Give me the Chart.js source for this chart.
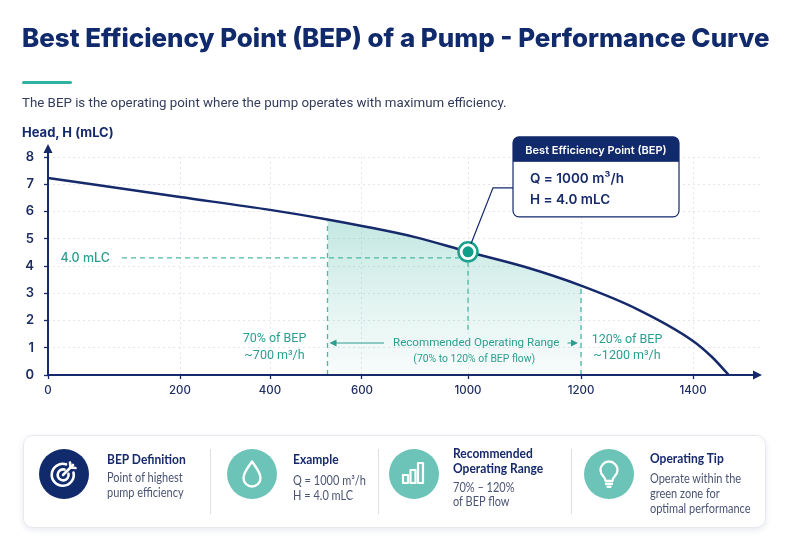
<!DOCTYPE html>
<html>
<head>
<meta charset="utf-8">
<script src="https://cdn.jsdelivr.net/npm/chart.js@4.4.1/dist/chart.umd.min.js"></script>
<style>
  body { margin: 0; background: #fff; font-family: Inter, 'Noto Sans', sans-serif; }
  #wrap { position: relative; width: 800px; height: 553px; overflow: hidden; background: #fff; }
  #chart { position: absolute; left: 0; top: 0; }
  .abs { position: absolute; white-space: nowrap; }
  #title { left: 22px; top: 22px; font-size: 24px; font-weight: 800; color: #112a6b; line-height: 32px; }
  #bar { left: 22px; top: 81px; width: 50px; height: 3px; background: #2eb3a1; border-radius: 2px; }
  #sub { left: 22px; top: 94px; font-size: 13px; color: #333c5c; line-height: 18px; font-family: Roboto, sans-serif; }
  #ytitle { left: 22px; top: 124px; font-size: 13px; font-weight: 700; color: #15296b; line-height: 17px; }
  #card { left: 23px; top: 435px; width: 741px; height: 91px; border: 1px solid #e7e9ef; border-radius: 10px;
          background: #fff; box-shadow: 0 2px 6px rgba(20, 40, 100, 0.10); }
  .sep { position: absolute; top: 449px; width: 1px; height: 65px; background: #dcdfe6; }
  .icon { position: absolute; top: 449px; width: 50px; height: 50px; }
  .ct { font-family: Lato, sans-serif; font-size: 13.5px; font-weight: 700; color: #15296b; line-height: 15px;
        transform: scaleX(0.89); transform-origin: left center; }
  .cb { font-family: Lato, sans-serif; font-size: 12.5px; color: #4b5474; line-height: 15px;
        transform: scaleX(0.88); transform-origin: left center; }
</style>
</head>
<body>
<div id="wrap">
  <canvas id="chart" width="800" height="553"></canvas>

  <div id="title" class="abs">Best Efficiency Point (BEP) of a Pump - Performance Curve</div>
  <div id="bar" class="abs"></div>
  <div id="sub" class="abs">The BEP is the operating point where the pump operates with maximum efficiency.</div>
  <div id="ytitle" class="abs">Head, H (mLC)</div>

  <div id="card" class="abs"></div>
  <div class="sep" style="left:210px"></div>
  <div class="sep" style="left:378px"></div>
  <div class="sep" style="left:571px"></div>

  <svg class="icon" style="left:39px" viewBox="0 0 50 50">
    <circle cx="25" cy="25" r="25" fill="#102a6b"/>
    <g fill="none" stroke="#fff" stroke-width="2.6" stroke-linecap="round" stroke-linejoin="round">
      <path d="M34.5 23.5 A11 11 0 1 1 27 15.3"/>
      <path d="M29.5 24.8 A5.5 5.5 0 1 1 25.5 20.6"/>
      <path d="M24 26 L34 16"/>
      <path d="M31 13.5 L31.5 18.5 L36.5 19"/>
    </g>
  </svg>
  <svg class="icon" style="left:227px" viewBox="0 0 50 50">
    <circle cx="25" cy="25" r="25" fill="#6cc3b7"/>
    <path d="M25 12.5 C22 17 16.5 23 16.5 29 A8.5 8.5 0 0 0 33.5 29 C33.5 23 28 17 25 12.5 Z"
          fill="none" stroke="#fff" stroke-width="2.4" stroke-linejoin="round"/>
  </svg>
  <svg class="icon" style="left:389px" viewBox="0 0 50 50">
    <circle cx="25" cy="25" r="25" fill="#6cc3b7"/>
    <g fill="none" stroke="#fff" stroke-width="2.2" stroke-linejoin="round">
      <rect x="14" y="26" width="5" height="8"/>
      <rect x="21.5" y="21" width="5" height="13"/>
      <rect x="29" y="14" width="5" height="20"/>
    </g>
  </svg>
  <svg class="icon" style="left:584px" viewBox="0 0 50 50">
    <circle cx="25" cy="25" r="25" fill="#6cc3b7"/>
    <g fill="none" stroke="#fff" stroke-width="2.3" stroke-linecap="round" stroke-linejoin="round">
      <path d="M19.5 27.5 A8.5 8.5 0 1 1 30.5 27.5 C29 29 28.5 30.5 28.5 32 H21.5 C21.5 30.5 21 29 19.5 27.5 Z"/>
      <path d="M22 35 H28"/>
      <path d="M23.5 37.8 H26.5"/>
    </g>
  </svg>

  <div class="abs ct" style="left:107px;top:452px">BEP Definition</div>
  <div class="abs cb" style="left:107px;top:470px">Point of highest<br>pump efficiency</div>

  <div class="abs ct" style="left:293px;top:452px">Example</div>
  <div class="abs cb" style="left:293px;top:473px">Q = 1000 m³/h<br>H = 4.0 mLC</div>

  <div class="abs ct" style="left:453px;top:446px">Recommended<br>Operating Range</div>
  <div class="abs cb" style="left:453px;top:481px;line-height:14px">70% – 120%<br>of BEP flow</div>

  <div class="abs ct" style="left:650px;top:451px">Operating Tip</div>
  <div class="abs cb" style="left:650px;top:471px">Operate within the<br>green zone for<br>optimal performance</div>
</div>

<script>
// pump curve (flow in m³/h, head in mLC)
const flowQ = [0, 200, 400, 525, 600, 800, 1000, 1100, 1200, 1300, 1400, 1434, 1464];
const headH = [7.23, 6.53, 6.06, 5.71, 5.47, 5.06, 4.52, 3.97, 3.28, 2.42, 1.25, 0.66, 0];
const xTicks = [0, 200, 400, 600, 1000, 1200, 1400];
const yTicks = [0, 1, 2, 3, 4, 5, 6, 7, 8];
const rangeQ = [525, 1200];      // shaded recommended range as drawn
const bepQ = [1000];
const bepH = [4.52];
const bepGuideH = 4.3;           // level of the "4.0 mLC" guide line as drawn
const bepDropH = 1.55;           // where the dashed drop line from the BEP ends

const NAVY = '#15296b';
const TEAL = '#2a9f8f';
const DASH = '#4bb9a8';

// the reference axis is not evenly spaced, so map flow to the axis piece by piece
const X_MAX = 1520;
const X_KNOTS = [[0, 0], [200, 0.1854], [400, 0.3118], [600, 0.4410], [1000, 0.5899],
                 [1200, 0.7486], [1400, 0.9059], [1520, 1]];

class FlowScale extends Chart.LinearScale {
  static id = 'flow';
  getPixelForValue(value) {
    let k = X_KNOTS;
    let i = 1;
    while (i < k.length - 1 && value > k[i][0]) i++;
    const [v0, f0] = k[i - 1], [v1, f1] = k[i];
    return this.getPixelForDecimal(f0 + (value - v0) / (v1 - v0) * (f1 - f0));
  }
  getValueForPixel(pixel) {
    const d = (pixel - this._startPixel) / this._length;
    let k = X_KNOTS;
    let i = 1;
    while (i < k.length - 1 && d > k[i][1]) i++;
    const [v0, f0] = k[i - 1], [v1, f1] = k[i];
    return v0 + (d - f0) / (f1 - f0) * (v1 - v0);
  }
}
Chart.register(FlowScale);

const curvePts = flowQ.map((q, i) => ({ x: q, y: headH[i] }));
const rangePts = curvePts.filter(p => p.x >= rangeQ[0] && p.x <= rangeQ[1]);
const bepPts = bepQ.map((q, i) => ({ x: q, y: bepH[i] }));

function arrowHead(ctx, x, y, angle, len, half) {
  ctx.save();
  ctx.translate(x, y);
  ctx.rotate(angle);
  ctx.beginPath();
  ctx.moveTo(0, 0);
  ctx.lineTo(-len, -half);
  ctx.lineTo(-len, half);
  ctx.closePath();
  ctx.fill();
  ctx.restore();
}

function dashed(ctx, x1, y1, x2, y2) {
  ctx.save();
  ctx.strokeStyle = DASH;
  ctx.lineWidth = 1.3;
  ctx.setLineDash([5, 4]);
  ctx.beginPath();
  ctx.moveTo(x1, y1);
  ctx.lineTo(x2, y2);
  ctx.stroke();
  ctx.restore();
}

const notes = {
  id: 'notes',
  afterDatasetsDraw(chart) {
    const { ctx, chartArea: a, scales: { x, y } } = chart;
    const curve = chart.getDatasetMeta(0).data;
    const r0 = curve[flowQ.indexOf(rangeQ[0])];
    const r1 = curve[flowQ.indexOf(rangeQ[1])];
    const bx = x.getPixelForValue(bepQ[0]);
    const by = y.getPixelForValue(bepH[0]);

    // guide lines
    dashed(ctx, r0.x, a.bottom, r0.x, r0.y + 2);
    dashed(ctx, r1.x, a.bottom, r1.x, r1.y + 2);
    const gy = y.getPixelForValue(bepGuideH);
    dashed(ctx, a.left + 74, gy, bx - 9, gy);
    dashed(ctx, bx, by + 10, bx, y.getPixelForValue(bepDropH));

    ctx.save();
    ctx.fillStyle = TEAL;
    ctx.textBaseline = 'middle';
    ctx.font = '500 12.5px Inter';
    ctx.textAlign = 'right';
    ctx.fillText('4.0 mLC', a.left + 62, gy);

    ctx.textAlign = 'center';
    ctx.font = '12.5px Roboto';
    ctx.fillText('70% of BEP', r0.x - 53, a.bottom - 36);
    ctx.fillText('~700 m³/h', r0.x - 53, a.bottom - 19);
    ctx.fillText('120% of BEP', r1.x + 46, a.bottom - 35);
    ctx.fillText('~1200 m³/h', r1.x + 46, a.bottom - 19);

    // range arrows
    ctx.font = '11.6px Roboto';
    const t1 = 'Recommended Operating Range';
    const tw = ctx.measureText(t1).width;
    const tc = (r0.x + r1.x) / 2 + 22;
    const ay = a.bottom - 32;
    ctx.fillText(t1, tc, ay);
    ctx.font = '10.4px Roboto';
    ctx.fillText('(70% to 120% of BEP flow)', tc - 2, a.bottom - 16);
    ctx.strokeStyle = TEAL;
    ctx.lineWidth = 1.2;
    ctx.beginPath();
    ctx.moveTo(r0.x + 4, ay);
    ctx.lineTo(tc - tw / 2 - 9, ay);
    ctx.moveTo(tc + tw / 2 + 8, ay);
    ctx.lineTo(r1.x - 6, ay);
    ctx.stroke();
    arrowHead(ctx, r0.x + 2, ay, Math.PI, 7, 3.5);
    arrowHead(ctx, r1.x - 3, ay, 0, 7, 3.5);
    ctx.restore();

    // axes with arrow heads
    ctx.save();
    ctx.strokeStyle = NAVY;
    ctx.fillStyle = NAVY;
    ctx.lineWidth = 2;
    ctx.beginPath();
    ctx.moveTo(a.left, a.bottom);
    ctx.lineTo(a.left, a.top - 7);
    ctx.moveTo(a.left, a.bottom);
    ctx.lineTo(a.right - 4, a.bottom);
    ctx.stroke();
    arrowHead(ctx, a.left, a.top - 13, -Math.PI / 2, 9, 4.5);
    arrowHead(ctx, a.right + 2, a.bottom, 0, 9, 4.5);

    // callout box
    const cx = bx + 45, cy = by - 115, cw = 166, ch = 80, hh = 25;
    ctx.lineWidth = 1.2;
    ctx.beginPath();
    ctx.moveTo(bx + 3, by - 8);
    ctx.lineTo(cx - 20, cy + 51);
    ctx.lineTo(cx, cy + 51);
    ctx.stroke();

    ctx.beginPath();
    ctx.roundRect(cx, cy, cw, ch, 6);
    ctx.fillStyle = '#fff';
    ctx.fill();
    ctx.save();
    ctx.clip();
    ctx.fillStyle = '#112a6b';
    ctx.fillRect(cx, cy, cw, hh);
    ctx.restore();
    ctx.beginPath();
    ctx.roundRect(cx, cy, cw, ch, 6);
    ctx.stroke();

    ctx.textBaseline = 'middle';
    ctx.textAlign = 'center';
    ctx.fillStyle = '#fff';
    ctx.font = '600 11px Inter';
    ctx.fillText('Best Efficiency Point (BEP)', cx + cw / 2, cy + hh / 2 + 1);
    ctx.textAlign = 'left';
    ctx.fillStyle = NAVY;
    ctx.font = '600 13.5px Inter';
    ctx.fillText('Q = 1000 m³/h', cx + 17, cy + 42);
    ctx.fillText('H = 4.0 mLC', cx + 17, cy + 63);
    ctx.restore();
  }
};

const ctx = document.getElementById('chart').getContext('2d');

new Chart(ctx, {
  type: 'line',
  data: {
    datasets: [{
      label: 'Pump curve',
      data: curvePts,
      borderColor: NAVY,
      borderWidth: 2.5,
      pointRadius: 0,
      cubicInterpolationMode: 'monotone',
      fill: false,
      order: 2
    }, {
      label: 'Recommended range',
      data: rangePts,
      borderWidth: 0,
      pointRadius: 0,
      cubicInterpolationMode: 'monotone',
      fill: 'origin',
      backgroundColor: (c) => {
        const ch = c.chart;
        if (!ch.chartArea) return 'rgba(64,180,160,0.2)';
        const ys = ch.scales.y;
        const g = ch.ctx.createLinearGradient(0, ys.getPixelForValue(5.7), 0, ys.getPixelForValue(0));
        g.addColorStop(0, 'rgba(60,178,158,0.30)');
        g.addColorStop(0.55, 'rgba(60,178,158,0.14)');
        g.addColorStop(1, 'rgba(60,178,158,0.04)');
        return g;
      },
      order: 3
    }, {
      label: 'BEP ring',
      data: bepPts,
      showLine: false,
      pointRadius: 9.5,
      pointBackgroundColor: '#fff',
      pointBorderColor: '#1aa08d',
      pointBorderWidth: 2.5,
      order: 1
    }, {
      label: 'BEP',
      data: bepPts,
      showLine: false,
      pointRadius: 5.5,
      pointBackgroundColor: '#0f9e89',
      pointBorderWidth: 0,
      order: 0
    }]
  },
  options: {
    responsive: false,
    animation: false,
    events: [],
    layout: { padding: { left: 8, top: 157, right: 40, bottom: 150 } },
    plugins: { legend: { display: false }, tooltip: { enabled: false } },
    scales: {
      x: {
        type: 'flow',
        min: 0,
        max: X_MAX,
        afterBuildTicks: (s) => { s.ticks = xTicks.map(v => ({ value: v })); },
        afterFit: (s) => { s.height = 28; },
        grid: { color: '#e3e6ed', lineWidth: 1, tickLength: 4, tickColor: NAVY, tickWidth: 1.3 },
        border: { display: false, dash: [2, 3] },
        ticks: {
          padding: 5,
          autoSkip: false,
          maxRotation: 0,
          color: '#1d2d62',
          font: { family: 'Inter', size: 11.5, weight: '500' },
          callback: (v) => String(v)
        }
      },
      y: {
        min: 0,
        max: 8,
        afterBuildTicks: (s) => { s.ticks = yTicks.map(v => ({ value: v })); },
        afterFit: (s) => { s.width = 40; },
        grid: { color: '#e3e6ed', lineWidth: 1, tickLength: 4, tickColor: NAVY, tickWidth: 1.3 },
        border: { display: false, dash: [2, 3] },
        ticks: {
          padding: 10,
          color: '#1d2d62',
          font: { family: 'Inter', size: 13, weight: '600' },
          callback: (v) => String(v)
        }
      }
    }
  },
  plugins: [notes]
});

function fitWidth(id, w) {
  const el = document.getElementById(id);
  const s = parseFloat(getComputedStyle(el).fontSize);
  el.style.fontSize = (s * w / el.getBoundingClientRect().width) + 'px';
}
fitWidth('title', 748);
fitWidth('sub', 485);
</script>
</body>
</html>
